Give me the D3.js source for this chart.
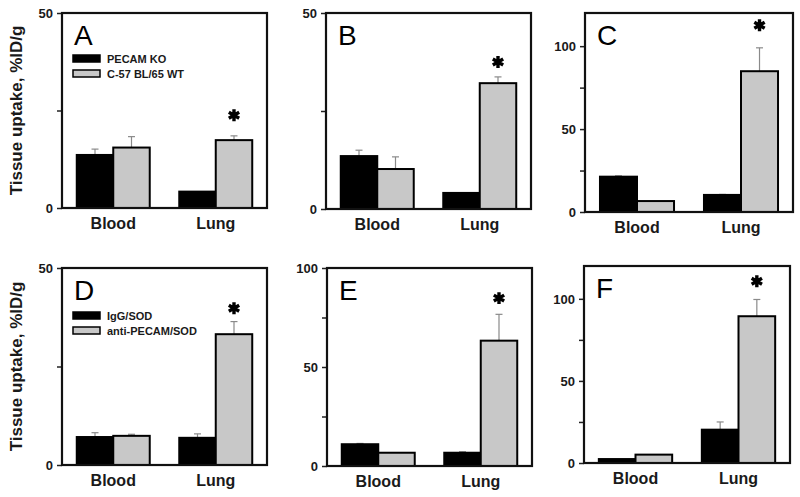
<!DOCTYPE html>
<html>
<head>
<meta charset="utf-8">
<script src="https://cdn.jsdelivr.net/npm/d3@7"></script>
<style>
  html, body { margin: 0; padding: 0; background: #fff; }
  svg { display: block; font-family: "Liberation Sans", Arial, sans-serif; }
</style>
</head>
<body>
<svg id="chart" width="800" height="497"></svg>
<script>
// ---------------- DATA ----------------
const categories = ["Blood", "Lung"];
const panelLetters = ["A", "B", "C", "D", "E", "F"];
const yMaxValues = [50, 50, 120, 50, 100, 120];
const yTickValues = [
  [0, 25, 50], [0, 25, 50], [0, 25, 50, 75, 100],
  [0, 25, 50], [0, 25, 50, 75, 100], [0, 25, 50, 75, 100]
];
const yTickLabels = [
  ["0", "", "50"], ["0", "", "50"], ["0", "", "50", "", "100"],
  ["0", "", "50"], ["0", "", "50", "", "100"], ["0", "", "50", "", "100"]
];
// dark series (PECAM KO / IgG/SOD) means and SD per panel [Blood, Lung]
const darkMeans = [[13.6, 4.2], [13.5, 4.1], [21.3, 10.3], [7.1, 6.9], [11.0, 6.7], [2.4, 20.3]];
const darkSD    = [[1.5, 0],    [1.5, 0],    [0.5, 0.3],   [1.1, 1.0], [0.4, 0.5],  [0, 4.7]];
// light series (C-57 BL/65 WT / anti-PECAM/SOD)
const lightMeans = [[15.5, 17.4], [10.2, 32.1], [6.6, 84.9], [7.4, 33.2], [6.7, 63.3], [5.1, 89.4]];
const lightSD    = [[2.8, 1.1],   [3.1, 1.6],   [0, 14.1],   [0.4, 3.2],  [0, 13.3],   [0, 10.2]];
// significance star value (over Lung, light bar)
const starValues = [23.8, 37.5, 112.6, 39.8, 84.8, 110.7];
const legendRow1 = ["PECAM KO", "C-57 BL/65 WT"];
const legendRow2 = ["IgG/SOD", "anti-PECAM/SOD"];
const yTitle = "Tissue uptake, %ID/g";

// ---------------- LAYOUT ----------------
const boxes = [
  { x0: 62,  x1: 267, y0: 13,  y1: 208 },
  { x0: 326, x1: 531, y0: 13,  y1: 209 },
  { x0: 585, x1: 793, y0: 13,  y1: 212 },
  { x0: 62,  x1: 267, y0: 268, y1: 465 },
  { x0: 327, x1: 532, y0: 268, y1: 466 },
  { x0: 584, x1: 790, y0: 266, y1: 463 }
];
const darkFill = "#000";
const lightFill = "#c8c8c8";
const textColor = "#1a1a1a";

const svg = d3.select("#chart");

boxes.forEach((b, i) => {
  const w = b.x1 - b.x0;
  const g = svg.append("g").attr("transform", `translate(${b.x0},${b.y0})`);
  const h = b.y1 - b.y0;
  const y = d3.scaleLinear().domain([0, yMaxValues[i]]).range([h, 0]);
  const x = d3.scalePoint().domain(categories).range([0, w]).padding(0.5);
  const bw = w * 0.178;

  // y axis ticks
  const axis = d3.axisLeft(y)
    .tickValues(yTickValues[i])
    .tickSize(5)
    .tickPadding(4)
    .tickFormat((d, k) => yTickLabels[i][k]);
  const ag = g.append("g").call(axis);
  ag.select(".domain").remove();
  ag.selectAll(".tick line").attr("stroke", "#222").attr("stroke-width", 1.5);
  ag.selectAll(".tick text")
    .attr("fill", textColor)
    .style("font-size", "13px")
    .style("font-weight", "bold")
    .style("font-family", "'Liberation Sans', Arial, sans-serif");

  // bars
  const rows = [];
  categories.forEach((c, k) => {
    rows.push({ c, v: darkMeans[i][k], sd: darkSD[i][k], off: -bw, fill: darkFill });
    rows.push({ c, v: lightMeans[i][k], sd: lightSD[i][k], off: 0, fill: lightFill });
  });

  // error bars (upper only)
  rows.filter(r => r.sd > 0).forEach(r => {
    const cx = x(r.c) + r.off + bw / 2;
    g.append("line")
      .attr("x1", cx).attr("x2", cx)
      .attr("y1", y(r.v)).attr("y2", y(r.v + r.sd))
      .attr("stroke", "#8a8a8a").attr("stroke-width", 1.2);
    g.append("line")
      .attr("x1", cx - 3.5).attr("x2", cx + 3.5)
      .attr("y1", y(r.v + r.sd)).attr("y2", y(r.v + r.sd))
      .attr("stroke", "#8a8a8a").attr("stroke-width", 1.2);
  });

  g.selectAll("rect.bar").data(rows).join("rect")
    .attr("class", "bar")
    .attr("x", r => x(r.c) + r.off)
    .attr("y", r => y(r.v))
    .attr("width", bw)
    .attr("height", r => h - y(r.v))
    .attr("fill", r => r.fill)
    .attr("stroke", "#000")
    .attr("stroke-width", 2);

  // frame
  g.append("rect")
    .attr("x", 0).attr("y", 0).attr("width", w).attr("height", h)
    .attr("fill", "none").attr("stroke", "#111").attr("stroke-width", 2.2);

  // star
  const sx = x("Lung") + bw / 2;
  g.append("path")
    .attr("transform", `translate(${sx},${y(starValues[i])})`)
    .attr("d", d3.symbol(d3.symbolAsterisk, 100)())
    .attr("stroke", "#000").attr("stroke-width", 3.4).attr("fill", "none");

  // x labels
  g.selectAll("text.xl").data(categories).join("text")
    .attr("class", "xl")
    .attr("x", d => x(d))
    .attr("y", h + 21)
    .attr("text-anchor", "middle")
    .attr("fill", textColor)
    .style("font-size", "16px")
    .style("font-weight", "bold")
    .text(d => d);

  // panel letter
  g.append("text")
    .attr("x", 12).attr("y", 32)
    .attr("fill", "#000")
    .style("font-size", "28px")
    .text(panelLetters[i]);

  // legend
  if (i === 0 || i === 3) {
    const labels = i === 0 ? legendRow1 : legendRow2;
    const ly0 = i === 0 ? 42 : 44;
    [darkFill, lightFill].forEach((f, k) => {
      g.append("rect")
        .attr("x", 11).attr("y", ly0 + k * 15)
        .attr("width", 27).attr("height", 7)
        .attr("fill", f).attr("stroke", "#000").attr("stroke-width", 1.5);
      g.append("text")
        .attr("x", 45).attr("y", ly0 + k * 15 + 8)
        .attr("fill", textColor)
        .style("font-size", "11px")
        .style("font-weight", "bold")
        .text(labels[k]);
    });
  }
});

// y titles
[[16, (13 + 208) / 2], [16, (268 + 465) / 2]].forEach(([tx, ty]) => {
  svg.append("text")
    .attr("transform", `translate(${tx},${ty}) rotate(-90)`)
    .attr("text-anchor", "middle")
    .attr("dy", "0.35em")
    .attr("fill", textColor)
    .style("font-size", "17px")
    .style("font-weight", "bold")
    .text(yTitle);
});
</script>
</body>
</html>
